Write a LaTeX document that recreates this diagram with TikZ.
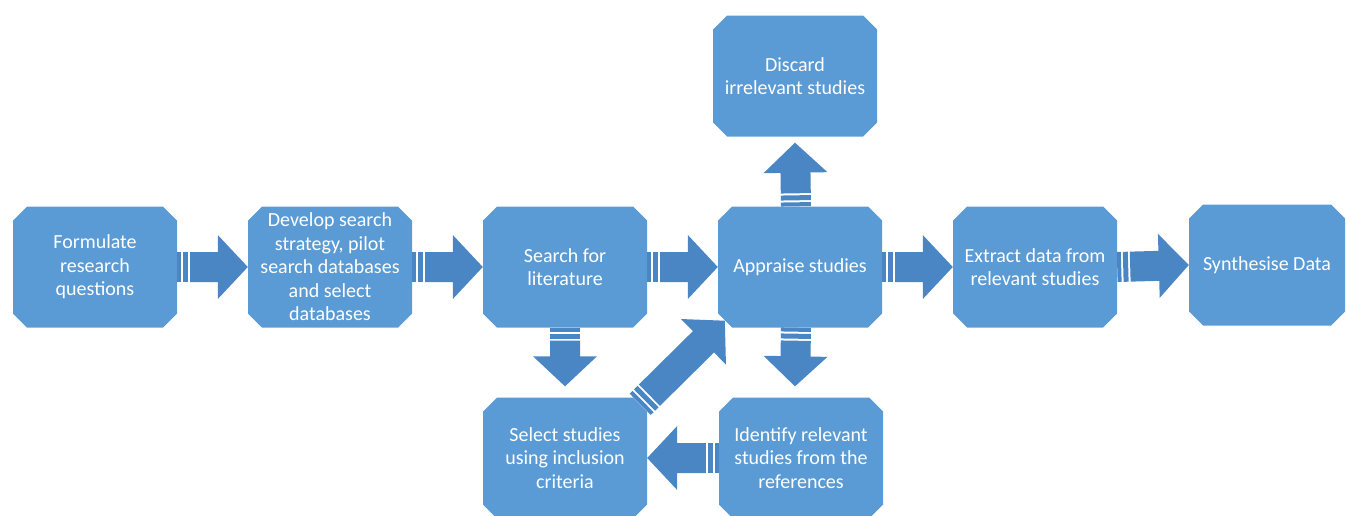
\documentclass[tikz,border=0pt]{standalone}
\usepackage{fontspec}
\setmainfont{Carlito}
\usetikzlibrary{calc}
\definecolor{boxblue}{HTML}{5B9BD5}
\definecolor{arrowblue}{HTML}{4A86C4}
\tikzset{
  stage/.style={rectangle,text=white,align=center,inner sep=0pt,
    minimum width=164pt,minimum height=121pt,
    font=\fontsize{20}{23.5}\selectfont,
    path picture={\fill[boxblue]
      ($(path picture bounding box.north west)+(14pt,0pt)$) -- ($(path picture bounding box.north east)+(-14pt,0pt)$)
      -- ($(path picture bounding box.north east)+(0pt,-14pt)$) -- ($(path picture bounding box.south east)+(0pt,14pt)$)
      -- ($(path picture bounding box.south east)+(-14pt,0pt)$) -- ($(path picture bounding box.south west)+(14pt,0pt)$)
      -- ($(path picture bounding box.south west)+(0pt,14pt)$) -- ($(path picture bounding box.north west)+(0pt,-14pt)$)
      -- cycle;}},
}
% striped block arrow from #1 (tail) to #2 (tip)
\newcommand{\stripedarrow}[2]{%
  \coordinate (sa1) at (#1);
  \coordinate (sa2) at (#2);
  \foreach \s/\e in {0/4,6/11}
    \fill[arrowblue] ($(sa1)!\s pt!(sa2)!15pt!90:(sa2)$) -- ($(sa1)!\e pt!(sa2)!15pt!90:(sa2)$)
      -- ($(sa1)!\e pt!(sa2)!15pt!-90:(sa2)$) -- ($(sa1)!\s pt!(sa2)!15pt!-90:(sa2)$) -- cycle;
  \fill[arrowblue] ($(sa1)!13pt!(sa2)!15pt!90:(sa2)$) -- ($(sa2)!30pt!(sa1)!15pt!-90:(sa1)$)
    -- ($(sa2)!30pt!(sa1)!32pt!-90:(sa1)$) -- (sa2) -- ($(sa2)!30pt!(sa1)!32pt!90:(sa1)$)
    -- ($(sa2)!30pt!(sa1)!15pt!90:(sa1)$) -- ($(sa1)!13pt!(sa2)!15pt!-90:(sa2)$) -- cycle;
}
\begin{document}
\begin{tikzpicture}[x=1pt,y=-1pt]
  \useasboundingbox (0,0) rectangle (1346,515);
  \node[stage] (form) at (95,267) {Formulate\\research\\questions};
  \node[stage] (dev) at (330,267) {Develop search\\strategy, pilot\\search databases\\and select\\databases};
  \node[stage] (srch) at (565,267) {Search for\\literature};
  \node[stage] (appr) at (800,267) {Appraise studies};
  \node[stage] (extr) at (1035,267) {Extract data from\\relevant studies};
  \node[stage,minimum width=156pt] (synt) at (1267,265) {Synthesise Data};
  \node[stage] (disc) at (795,76) {Discard\\irrelevant studies};
  \node[stage] (sel) at (565,458) {Select studies\\using inclusion\\criteria};
  \node[stage] (iden) at (801,458) {Identify relevant\\studies from the\\references};
  % main chain
  \stripedarrow{form.east}{dev.west}
  \stripedarrow{dev.east}{srch.west}
  \stripedarrow{srch.east}{appr.west}
  \stripedarrow{appr.east}{extr.west}
  \stripedarrow{extr.east}{synt.west}
  % side loop
  \stripedarrow{$(appr.north)+(-4,0)$}{$(disc.south)+(0,6)$}
  \stripedarrow{srch.south}{$(sel.north)+(0,-11)$}
  \stripedarrow{$(appr.south)+(-4,0)$}{$(iden.north)+(-6,-11)$}
  \stripedarrow{iden.west}{sel.east}
  \stripedarrow{$(sel.north -| sel.east)+(-7,7)$}{$(appr.south -| appr.west)+(7,-7)$}
\end{tikzpicture}
\end{document}
